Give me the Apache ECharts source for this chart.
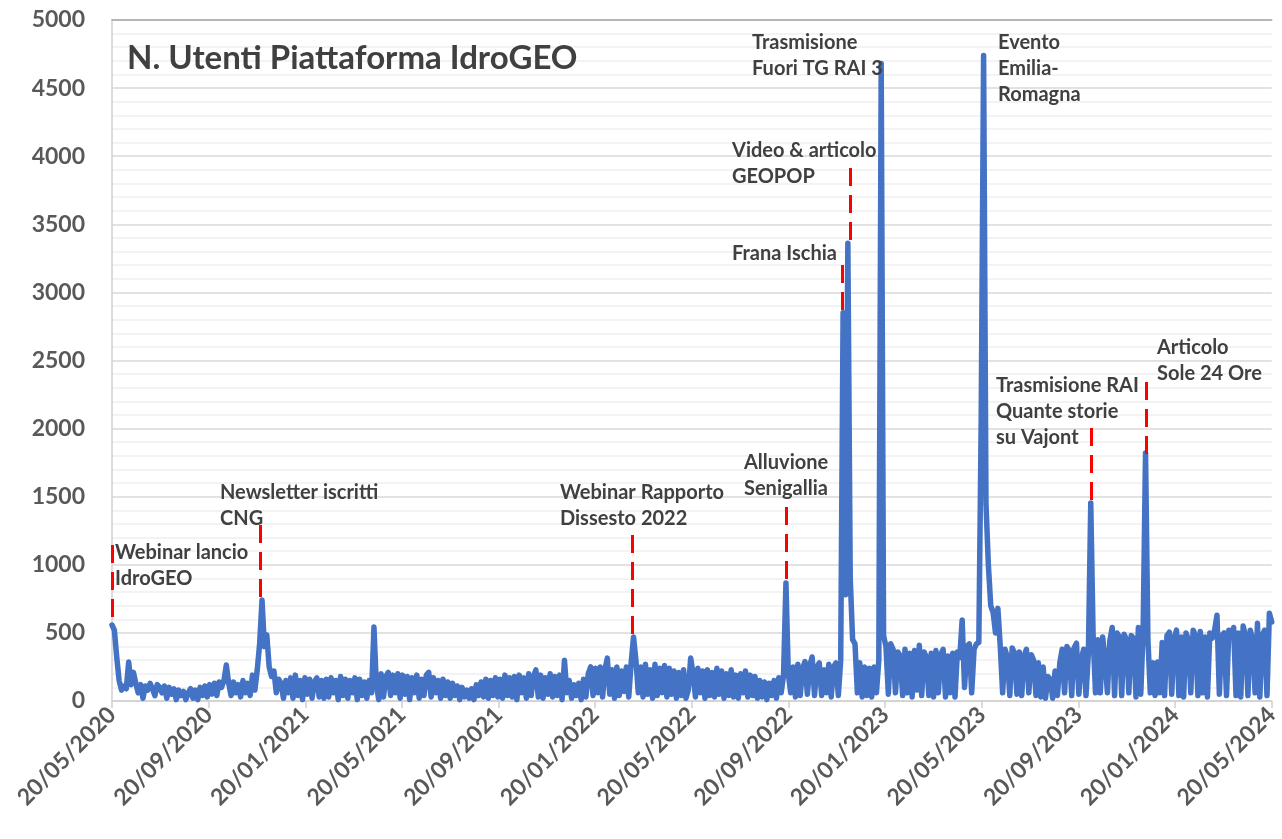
<!DOCTYPE html>
<html>
<head>
<meta charset="utf-8">
<script src="https://cdn.jsdelivr.net/npm/echarts@6/dist/echarts.min.js"></script>
<style>html,body{margin:0;padding:0;background:#fff}#c{width:1282px;height:839px}</style>
</head>
<body>
<div id="c"></div>
<script>
// x-axis tick labels (every 4 months)
const xLabels = ['20/05/2020','20/09/2020','20/01/2021','20/05/2021','20/09/2021','20/01/2022','20/05/2022','20/09/2022','20/01/2023','20/05/2023','20/09/2023','20/01/2024','20/05/2024'];
const START = Date.UTC(2020, 4, 20);
const END = Date.UTC(2024, 4, 20);
const STEP_DAYS = 3; // one reading every 3 days
// N. utenti, 2020-05-20 .. 2024-05-20 (sampled every 3 days)
const users = [
 558,520,320,150,80,110,90,286,120,210,130,60,120,20,110,80,130,90,40,120,100,
 60,110,20,100,50,90,10,80,40,70,10,60,90,20,80,10,100,40,110,30,120,50,130,40,140,
 100,150,264,130,40,140,60,120,30,150,60,130,40,190,80,230,420,741,400,485,250,180,220,60,160,
 130,20,150,60,170,20,190,40,150,10,170,50,160,20,140,170,30,150,20,160,
 30,170,60,150,10,180,40,160,20,150,60,170,10,160,40,140,20,150,60,543,120,10,
 200,30,180,210,40,190,60,200,20,190,50,180,10,170,60,190,20,160,40,190,210,30,170,60,150,20,160,40,
 140,20,130,40,110,10,100,30,80,20,90,10,120,40,140,30,160,20,150,40,170,30,
 160,20,190,40,170,30,180,10,190,60,170,20,200,40,180,228,30,190,20,170,50,200,30,180,40,190,10,300,60,150,20,120,40,130,10,160,30,200,
 250,40,240,60,250,30,230,315,50,230,20,250,40,220,70,250,30,280,470,300,60,250,30,270,50,230,20,270,40,240,60,260,30,240,50,220,20,210,40,230,20,80,315,
 200,30,240,60,220,20,230,40,210,30,240,50,220,20,200,40,230,30,190,20,200,60,220,30,190,40,180,20,150,30,140,10,130,40,150,20,170,60,190,866,200,
 60,250,30,270,40,240,290,50,260,323,40,250,280,40,230,60,270,30,250,280,40,300,
 2850,780,3360,900,450,420,60,280,30,250,40,240,30,250,60,300,4680,480,400,50,420,380,60,360,
 330,40,380,60,350,30,370,80,410,40,360,320,40,350,30,370,60,340,380,30,330,60,350,30,360,320,
 595,100,400,420,60,380,420,430,2080,4740,1450,1000,700,650,500,680,
 400,60,380,320,40,390,350,50,360,40,330,380,60,340,300,40,280,30,250,20,180,160,20,220,40,280,380,60,400,370,40,390,425,50,300,380,40,350,
 1453,470,60,
 450,60,470,300,60,440,540,40,500,470,40,490,450,60,480,460,30,540,50,520,
 1820,450,60,
 280,40,286,60,430,40,480,505,50,460,520,40,470,30,500,450,60,520,480,40,510,60,470,30,500,460,520,630,50,480,500,40,520,470,540,40,500,30,550,480,40,520,450,60,570,30,480,520,40,645,580
];
// annotations: text lines, label anchor (px), dashed marker [day, from value, to value]
const noteTexts = [
 ['Webinar lancio','IdroGEO'],
 ['Newsletter iscritti','CNG'],
 ['Webinar Rapporto','Dissesto 2022'],
 ['Alluvione','Senigallia'],
 ['Frana Ischia'],
 ['Video & articolo','GEOPOP'],
 ['Trasmisione','Fuori TG RAI 3'],
 ['Evento','Emilia-','Romagna'],
 ['Trasmisione RAI','Quante storie','su Vajont'],
 ['Articolo','Sole 24 Ore']
];
const notePos = [[115,553],[220,493],[560,493],[744,463],[732,254],[732,151],[752,43],[998,43],[996,386],[1157,348]];
const markers = [[0,1145,595],[187,1292,742],[655,1219,485],[850,1424,874],[920,3201,2834],[930,3913,3363],[1234,2004,1461],[1303,2342,1791]];

const DAY = 86400000;
const seriesData = users.map((v, i) => [START + i * STEP_DAYS * DAY, v]);
const FONT = 'Lato, "Open Sans", sans-serif';

const chart = echarts.init(document.getElementById('c'), null, {renderer: 'canvas'});
chart.setOption({
  animation: false,
  backgroundColor: '#ffffff',
  title: {
    text: 'N. Utenti Piattaforma IdroGEO',
    left: 122, top: 37,
    textStyle: {fontFamily: FONT, fontWeight: 'bold', fontSize: 33, color: '#404040'}
  },
  grid: {left: 112, right: 6, top: 20, bottom: 138, containLabel: false},
  xAxis: [
    {
      type: 'category', data: xLabels, boundaryGap: false,
      axisLine: {show: true, lineStyle: {color: '#D0D0D0', width: 1.5}},
      axisTick: {show: true, interval: 0, length: 7, lineStyle: {color: '#D0D0D0', width: 1.5}},
      axisLabel: {interval: 0, rotate: 45, margin: 10, fontFamily: FONT, fontWeight: 'bold', fontSize: 23, color: '#595959'},
      splitLine: {show: false}
    },
    {
      type: 'time', min: START, max: END, position: 'top', show: true,
      axisLine: {show: true, lineStyle: {color: '#A6A6A6', width: 1.5}},
      axisTick: {show: false}, axisLabel: {show: false}, splitLine: {show: false}
    }
  ],
  yAxis: {
    type: 'value', min: 0, max: 5000, interval: 500,
    axisLine: {show: true, lineStyle: {color: '#D0D0D0', width: 1.5}},
    axisTick: {show: false},
    axisLabel: {margin: 27, fontFamily: FONT, fontWeight: 'bold', fontSize: 23, color: '#595959', formatter: v => String(v)},
    splitLine: {show: true, lineStyle: {color: '#D9D9D9', width: 1.5}},
    minorTick: {show: false, splitNumber: 5},
    minorSplitLine: {show: true, lineStyle: {color: '#F0F0F0', width: 1.5}}
  },
  series: [{
    type: 'line', xAxisIndex: 1, data: seriesData,
    showSymbol: false, symbol: 'none', clip: false,
    lineStyle: {color: '#4472C4', width: 5.5, cap: 'round', join: 'round'},
    z: 3,
    markLine: {
      silent: true, symbol: 'none', animation: false,
      lineStyle: {color: '#FF0000', width: 3, type: [18, 9]},
      label: {show: false},
      data: markers.map(m => [
        {coord: [START + m[0] * DAY, m[1]]},
        {coord: [START + m[0] * DAY, m[2]]}
      ])
    }
  }],
  graphic: noteTexts.map((lines, k) => ({
    type: 'text', left: notePos[k][0], top: notePos[k][1] - 13, z: 10,
    style: {
      text: lines.join('\n'), fill: '#404040',
      font: 'bold 20px ' + FONT, lineHeight: 26
    }
  }))
});
</script>
</body>
</html>
